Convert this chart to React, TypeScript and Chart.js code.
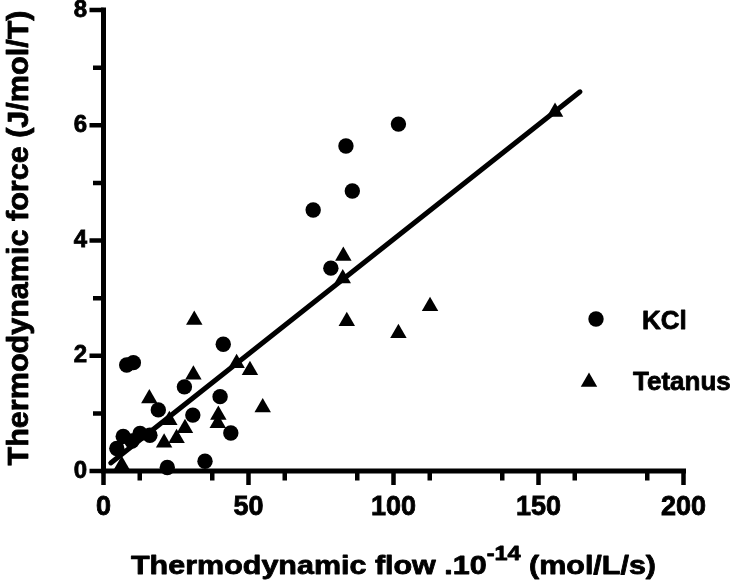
import React, { useEffect, useRef } from 'react';
import { Chart, registerables } from 'chart.js';

Chart.register(...registerables);

const FONT = "'Liberation Sans', Arial, Helvetica, sans-serif";

// KCl series (thermodynamic flow, thermodynamic force)
const kclFlow = [4.6, 6.8, 9.8, 12.6, 16.0, 8.0, 10.3, 18.9, 22.0, 27.9, 30.8, 35.0, 40.2, 41.3, 43.9, 72.3, 78.4, 83.6, 85.8, 101.7];
const kclForce = [0.39, 0.60, 0.52, 0.65, 0.62, 1.84, 1.88, 1.06, 0.06, 1.46, 0.97, 0.17, 1.29, 2.20, 0.66, 4.53, 3.52, 5.64, 4.86, 6.02];

// Tetanus series
const tetFlow = [6.3, 15.8, 20.9, 22.7, 25.2, 28.1, 31.0, 31.3, 39.4, 39.6, 45.9, 50.5, 54.9, 82.5, 82.7, 83.9, 101.7, 112.6, 155.7];
const tetForce = [0.10, 1.26, 0.49, 0.88, 0.57, 0.74, 1.67, 2.62, 0.83, 0.97, 1.87, 1.75, 1.10, 3.34, 3.73, 2.60, 2.39, 2.86, 6.23];

// Regression line end points
const fitFlow = [2.5, 164.3];
const fitForce = [0.14, 6.58];

// Axis ticks
const xTicks = [0, 50, 100, 150, 200];
const xMinorTicks = [12.5, 37.5, 62.5, 87.5, 112.5, 137.5, 162.5, 187.5];
const yTicks = [0, 2, 4, 6, 8];
const yMinorTicks = [1, 3, 5, 7];

const xTitleMain = 'Thermodynamic flow .10';
const xTitleSup = '-14';
const xTitleUnit = ' (mol/L/s)';
const yTitle = 'Thermodynamic force (J/mol/T)';
const seriesLabels = ['KCl', 'Tetanus'];

const toPoints = (xs: number[], ys: number[]) => xs.map((v, i) => ({ x: v, y: ys[i] }));

const STROKE = 0.8;

function boldText(ctx: CanvasRenderingContext2D, t: string, x: number, y: number) {
  ctx.fillText(t, x, y);
  ctx.strokeText(t, x, y);
}

const axesPlugin = {
  id: 'customAxes',
  beforeDatasetsDraw(chart: any) {
    const { ctx, scales } = chart;
    const x = scales.x;
    const y = scales.y;
    const x0 = x.getPixelForValue(0);
    const x1 = x.getPixelForValue(200);
    const y0 = y.getPixelForValue(0);
    const y1 = y.getPixelForValue(8);
    ctx.save();
    ctx.strokeStyle = '#000';
    ctx.lineWidth = 5;
    ctx.lineCap = 'square';
    ctx.beginPath();
    ctx.moveTo(x0, y0);
    ctx.lineTo(x1, y0);
    ctx.moveTo(x0, y0);
    ctx.lineTo(x0, y1);
    ctx.stroke();
    ctx.lineCap = 'butt';
    ctx.lineWidth = 4.5;
    ctx.beginPath();
    xTicks.forEach((v) => {
      const p = x.getPixelForValue(v);
      ctx.moveTo(p, y0);
      ctx.lineTo(p, y0 + 14);
    });
    xMinorTicks.forEach((v) => {
      const p = x.getPixelForValue(v);
      ctx.moveTo(p, y0);
      ctx.lineTo(p, y0 + 9.5);
    });
    yTicks.forEach((v) => {
      const p = y.getPixelForValue(v);
      ctx.moveTo(x0, p);
      ctx.lineTo(x0 - 14, p);
    });
    yMinorTicks.forEach((v) => {
      const p = y.getPixelForValue(v);
      ctx.moveTo(x0, p);
      ctx.lineTo(x0 - 10.5, p);
    });
    ctx.stroke();
    ctx.restore();
  },
  afterDraw(chart: any) {
    const { ctx, chartArea } = chart;
    ctx.save();
    ctx.fillStyle = '#000';
    ctx.strokeStyle = '#000';
    ctx.lineWidth = STROKE;
    ctx.lineJoin = 'round';
    ctx.textBaseline = 'alphabetic';
    ctx.textAlign = 'left';

    // X axis title with superscript
    ctx.font = `bold 26px ${FONT}`;
    const w1 = ctx.measureText(xTitleMain).width;
    const w3 = ctx.measureText(xTitleUnit).width;
    ctx.font = `bold 20px ${FONT}`;
    const w2 = ctx.measureText(xTitleSup).width;
    const total = w1 + w2 + w3;
    const targetW = 525;
    const sx = targetW / total;
    const cx = (chartArea.left + chartArea.right) / 2;
    ctx.save();
    ctx.translate(cx - targetW / 2, 574);
    ctx.scale(sx, 1);
    ctx.font = `bold 26px ${FONT}`;
    boldText(ctx, xTitleMain, 0, 0);
    boldText(ctx, xTitleUnit, w1 + w2, 0);
    ctx.font = `bold 20px ${FONT}`;
    boldText(ctx, xTitleSup, w1, -14);
    ctx.restore();

    // Y axis title
    ctx.save();
    ctx.font = `bold 30px ${FONT}`;
    const wy = ctx.measureText(yTitle).width;
    const cy = 238;
    ctx.translate(27.5, cy);
    ctx.rotate(-Math.PI / 2);
    ctx.scale(455 / wy, 1);
    ctx.textAlign = 'center';
    boldText(ctx, yTitle, 0, 0);
    ctx.restore();

    // Legend
    ctx.font = `bold 26px ${FONT}`;
    ctx.beginPath();
    ctx.arc(596, 319, 7.7, 0, Math.PI * 2);
    ctx.fill();
    boldText(ctx, chart.data.datasets[0].label, 642, 328.5);
    const r = 9.5;
    const tx = 589;
    const ty = 382;
    ctx.beginPath();
    let a = 0;
    ctx.moveTo(tx + Math.sin(a) * r, ty - Math.cos(a) * r);
    a += (2 * Math.PI) / 3;
    ctx.lineTo(tx + Math.sin(a) * r, ty - Math.cos(a) * r);
    a += (2 * Math.PI) / 3;
    ctx.lineTo(tx + Math.sin(a) * r, ty - Math.cos(a) * r);
    ctx.closePath();
    ctx.fill();
    boldText(ctx, chart.data.datasets[1].label, 633, 389.5);
    ctx.restore();
  },
};

export default function App() {
  const canvasRef = useRef<HTMLCanvasElement | null>(null);

  useEffect(() => {
    if (!canvasRef.current) return;
    const chart = new Chart(canvasRef.current, {
      type: 'scatter',
      data: {
        datasets: [
          {
            label: seriesLabels[0],
            data: toPoints(kclFlow, kclForce),
            pointStyle: 'circle',
            pointRadius: 7.7,
            pointHoverRadius: 7.7,
            backgroundColor: '#000',
            borderColor: '#000',
            borderWidth: 0,
            clip: false,
          } as any,
          {
            label: seriesLabels[1],
            data: toPoints(tetFlow, tetForce),
            pointStyle: 'triangle',
            pointRadius: 9.5,
            pointHoverRadius: 9.5,
            backgroundColor: '#000',
            borderColor: '#000',
            borderWidth: 0,
            clip: false,
          } as any,
          {
            label: 'fit',
            type: 'line',
            data: toPoints(fitFlow, fitForce),
            showLine: true,
            pointRadius: 0,
            borderColor: '#000',
            borderWidth: 5,
            borderCapStyle: 'round',
            fill: false,
            clip: false,
          } as any,
        ],
      },
      options: {
        animation: false,
        responsive: false,
        events: [],
        layout: { autoPadding: false, padding: { top: 10, right: 66.5, left: 0, bottom: 0 } },
        plugins: {
          legend: { display: false },
          tooltip: { enabled: false },
          title: { display: false },
        },
        scales: {
          x: {
            type: 'linear',
            min: 0,
            max: 200,
            afterBuildTicks: (s: any) => {
              s.ticks = xTicks.map((v) => ({ value: v }));
            },
            afterFit: (s: any) => {
              s.height = 115;
              s.paddingLeft = 0;
              s.paddingRight = 0;
              s.paddingTop = 0;
              s.paddingBottom = 0;
            },
            grid: { display: false, drawTicks: false },
            border: { display: false },
            ticks: {
              font: { size: 27, weight: 'bold', family: FONT },
              color: '#000',
              textStrokeColor: '#000',
              textStrokeWidth: STROKE,
              padding: 20,
              maxRotation: 0,
            },
          },
          y: {
            type: 'linear',
            min: 0,
            max: 8,
            afterBuildTicks: (s: any) => {
              s.ticks = yTicks.map((v) => ({ value: v }));
            },
            afterFit: (s: any) => {
              s.width = 103.5;
              s.paddingLeft = 0;
              s.paddingRight = 0;
              s.paddingTop = 0;
              s.paddingBottom = 0;
            },
            grid: { display: false, drawTicks: false },
            border: { display: false },
            ticks: {
              font: { size: 24, weight: 'bold', family: FONT },
              color: '#000',
              textStrokeColor: '#000',
              textStrokeWidth: STROKE,
              padding: 16.5,
            },
          },
        },
      } as any,
      plugins: [axesPlugin],
    });
    return () => chart.destroy();
  }, []);

  return (
    <div style={{ position: 'absolute', left: 0, top: 0, width: 750, height: 586, background: '#fff' }}>
      <canvas ref={canvasRef} width={750} height={586} style={{ display: 'block' }} />
    </div>
  );
}
